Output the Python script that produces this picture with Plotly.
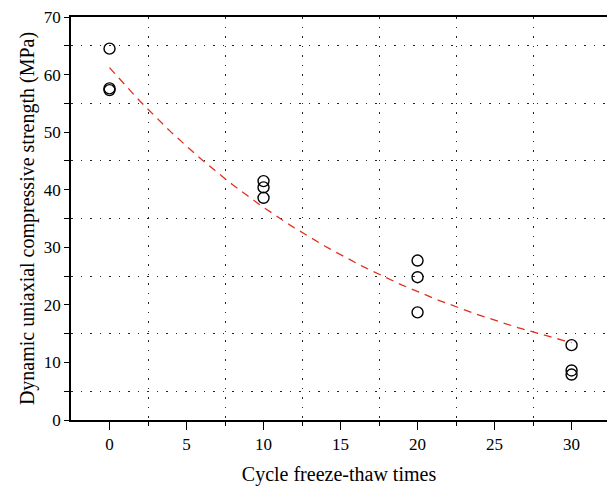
import numpy as np
import plotly.graph_objects as go

# Measured data
cycles = [0, 0, 0, 10, 10, 10, 20, 20, 20, 30, 30, 30]
strength = [64.5, 57.3, 57.6, 41.5, 40.4, 38.6, 27.7, 24.8, 18.7, 13.0, 8.6, 7.9]

# Exponential fit parameters (y = a * exp(-b x))
fit_a = 61.2
fit_b = 0.0505
fit_x = np.linspace(0, 30, 121)
fit_y = fit_a * np.exp(-fit_b * fit_x)

x_ticks = [0, 5, 10, 15, 20, 25, 30]
x_minor = [2.5, 7.5, 12.5, 17.5, 22.5, 27.5]
y_ticks = [0, 10, 20, 30, 40, 50, 60, 70]
y_minor = [5, 15, 25, 35, 45, 55, 65]

font_family = "Liberation Serif, DejaVu Serif, serif"
grid_dash = "1.5px,8px"

fig = go.Figure()
fig.add_trace(go.Scatter(
    x=fit_x, y=fit_y, mode="lines",
    line=dict(color="#e0301e", width=1.3, dash="8px,6px"),
    showlegend=False, hoverinfo="skip"))
fig.add_trace(go.Scatter(
    x=cycles, y=strength, mode="markers",
    marker=dict(symbol="circle-open", size=11, color="black", line=dict(width=1.4, color="black")),
    showlegend=False))

fig.update_layout(
    width=607, height=486,
    margin=dict(l=71, r=0, t=17, b=66),
    paper_bgcolor="white", plot_bgcolor="white",
    font=dict(family=font_family, size=17, color="black"),
    xaxis=dict(
        range=[-2.5, 32.3], tickvals=x_ticks, ticks="outside", ticklen=8, tickwidth=1.3,
        tickcolor="black", showline=True, linecolor="black", linewidth=1.5, mirror=True,
        showgrid=False, zeroline=False,
        minor=dict(tickvals=x_minor, ticks="outside", ticklen=4,
                   tickcolor="black", showgrid=True, gridcolor="#222", gridwidth=1.3,
                   griddash=grid_dash),
        title=dict(text="Cycle freeze-thaw times", font=dict(size=20), standoff=14),
        tickfont=dict(size=17),
    ),
    yaxis=dict(
        range=[0, 70], tickvals=y_ticks, ticks="outside", ticklen=5, tickwidth=1.3,
        tickcolor="black", showline=True, linecolor="black", linewidth=1.5,
        showgrid=False, zeroline=False,
        minor=dict(tickvals=y_minor, ticks="outside", ticklen=5,
                   tickcolor="black", showgrid=True, gridcolor="#222", gridwidth=1.3,
                   griddash=grid_dash),
        title=dict(text="Dynamic uniaxial compressive strength (MPa)", font=dict(size=20), standoff=4),
        tickfont=dict(size=17),
    ),
)

fig.write_html("out.html", config={"displayModeBar": False},
               post_script="document.body.style.margin='0';document.body.style.overflow='hidden';")
